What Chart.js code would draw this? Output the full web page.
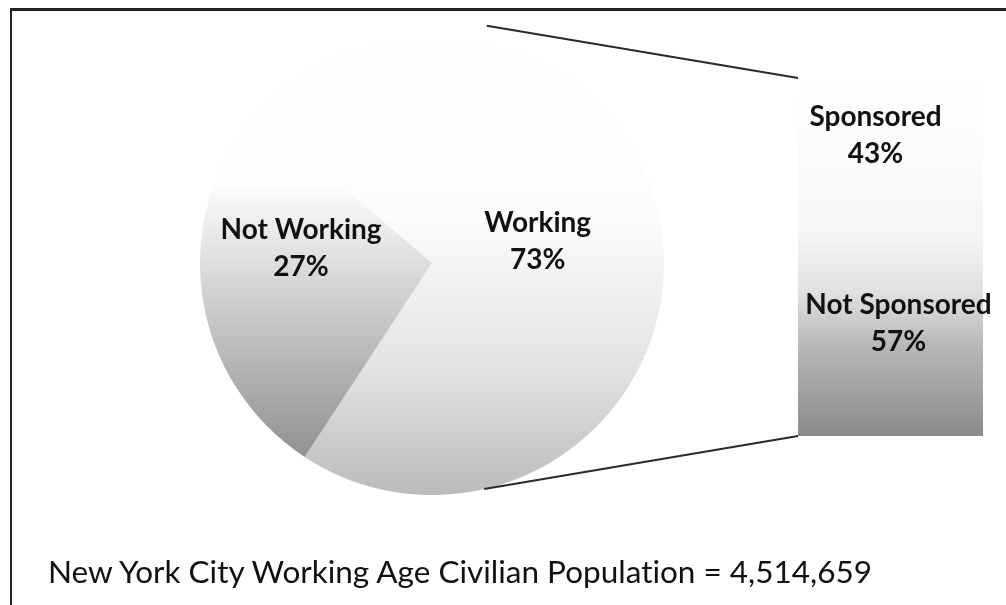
<!DOCTYPE html>
<html>
<head>
<meta charset="utf-8">
<script src="https://cdn.jsdelivr.net/npm/chart.js@4.4.1/dist/chart.umd.min.js"></script>
<style>
  html, body { margin: 0; padding: 0; background: #fff; overflow: hidden; }
  #frame { position: absolute; left: 0; top: 0; width: 1006px; height: 605px; overflow: hidden; }
  #border { position: absolute; left: 10px; top: 8px; width: 1100px; height: 700px;
            border-top: 3px solid #222; border-left: 2px solid #222; }
  #pieBox { position: absolute; left: 200px; top: 31px; width: 464px; height: 464px; }
  #barBox { position: absolute; left: 760px; top: 60px; width: 246px; height: 380px; }
  #links { position: absolute; left: 0; top: 0; pointer-events: none; }
  #caption { position: absolute; left: 48px; top: 555px; font: 31.5px Lato, sans-serif;
             line-height: 33px; color: #111; white-space: nowrap;
             font-variant-ligatures: none; }
</style>
</head>
<body>
<div id="frame">
  <div id="border"></div>
  <div id="pieBox"><canvas id="pie"></canvas></div>
  <div id="barBox"><canvas id="bar"></canvas></div>
  <canvas id="links" width="1006" height="605"></canvas>
  <div id="caption">New York City Working Age Civilian Population = 4,514,659</div>
</div>
<script>
// working age population split
const pieLabels = ['Working', 'Not Working'];
const pieValues = [73, 27];

// breakdown of the working group
const barLabels = ['Not Sponsored', 'Sponsored'];
const barValues = [57, 43];

// gradient stops [offset, colour], top to bottom
const pieShades = [
    [[0, '#ffffff'], [0.4, '#fcfcfc'], [0.72, '#e3e3e3'], [1, '#bbbbbb']],
    [[0, '#ffffff'], [0.33, '#fdfdfd'], [0.55, '#d4d4d4'], [0.8, '#a6a6a6'], [1, '#848484']]
];
const barShades = [
    [[0, '#f6f6f6'], [0.3, '#e0e0e0'], [0.55, '#b9b9b9'], [1, '#8b8b8b']],
    [[0, '#ffffff'], [0.5, '#fbfbfb'], [1, '#f5f5f5']]
];

const labelFont = 'bold 28px Lato, sans-serif';
const lineGap = 37;

function makeGradient(ctx, top, bottom, stops) {
    const g = ctx.createLinearGradient(0, top, 0, bottom);
    stops.forEach(s => g.addColorStop(s[0], s[1]));
    return g;
}

function drawLabel(ctx, x, y, name, pct) {
    ctx.save();
    ctx.font = labelFont;
    ctx.fillStyle = '#111';
    ctx.textAlign = 'center';
    ctx.textBaseline = 'middle';
    ctx.fillText(name, x, y - lineGap / 2);
    ctx.fillText(pct, x, y + lineGap / 2);
    ctx.restore();
}

const sliceLabels = {
    id: 'sliceLabels',
    afterDatasetsDraw(chart, args, opts) {
        const meta = chart.getDatasetMeta(0);
        meta.data.forEach((arc, i) => {
            const mid = (arc.startAngle + arc.endAngle) / 2;
            const r = arc.outerRadius * opts.radius[i];
            const x = arc.x + Math.cos(mid) * r;
            const y = arc.y + Math.sin(mid) * r + opts.shift[i];
            drawLabel(chart.ctx, x, y, pieLabels[i], pieValues[i] + '%');
        });
    }
};

const segmentLabels = {
    id: 'segmentLabels',
    afterDatasetsDraw(chart, args, opts) {
        chart.data.datasets.forEach((ds, i) => {
            const el = chart.getDatasetMeta(i).data[0];
            const x = el.x + opts.nudgeX[i];
            const y = (el.y + el.base) / 2 + opts.nudgeY[i];
            drawLabel(chart.ctx, x, y, barLabels[i], barValues[i] + '%');
        });
    }
};

const pieChart = new Chart(document.getElementById('pie'), {
    type: 'pie',
    data: {
        labels: pieLabels,
        datasets: [{
            data: pieValues,
            borderWidth: 0,
            backgroundColor: function (context) {
                const area = context.chart.chartArea;
                if (!area) return '#ddd';
                return makeGradient(context.chart.ctx, area.top, area.bottom, pieShades[context.dataIndex]);
            }
        }]
    },
    options: {
        responsive: true,
        maintainAspectRatio: false,
        animation: false,
        rotation: 310.5,
        layout: { padding: 0 },
        plugins: {
            legend: { display: false },
            tooltip: { enabled: false },
            sliceLabels: { radius: [0.46, 0.57], shift: [-6, -33] }
        }
    },
    plugins: [sliceLabels]
});

const barChart = new Chart(document.getElementById('bar'), {
    type: 'bar',
    data: {
        labels: ['Working'],
        datasets: barLabels.map((name, i) => ({
            label: name,
            data: [barValues[i]],
            borderWidth: 0,
            barPercentage: 1,
            categoryPercentage: 1,
            backgroundColor: function (context) {
                const y = context.chart.scales.y;
                if (!y) return '#ddd';
                let below = 0;
                for (let k = 0; k < context.datasetIndex; k++) below += barValues[k];
                const top = y.getPixelForValue(below + barValues[context.datasetIndex]);
                const bottom = y.getPixelForValue(below);
                if (!isFinite(top) || !isFinite(bottom)) return '#ddd';
                return makeGradient(context.chart.ctx, top, bottom, barShades[context.datasetIndex]);
            }
        }))
    },
    options: {
        responsive: true,
        maintainAspectRatio: false,
        animation: false,
        layout: { padding: { left: 38, right: 23, top: 18, bottom: 4 } },
        scales: {
            x: { stacked: true, display: false },
            y: { stacked: true, display: false, min: 0, max: 100 }
        },
        plugins: {
            legend: { display: false },
            tooltip: { enabled: false },
            segmentLabels: { nudgeX: [8, -15], nudgeY: [-11, -20] }
        }
    },
    plugins: [segmentLabels]
});

// connector lines from the pie edge to the corners of the bar
function drawLinks() {
    const canvas = document.getElementById('links');
    const ctx = canvas.getContext('2d');
    const frame = document.getElementById('frame').getBoundingClientRect();
    const pieRect = pieChart.canvas.getBoundingClientRect();
    const barRect = barChart.canvas.getBoundingClientRect();

    const arc = pieChart.getDatasetMeta(0).data[0];
    const cx = pieRect.left - frame.left + arc.x;
    const cy = pieRect.top - frame.top + arc.y;
    const R = arc.outerRadius;

    const topEl = barChart.getDatasetMeta(1).data[0];
    const baseEl = barChart.getDatasetMeta(0).data[0];
    const bx = barRect.left - frame.left + topEl.x - topEl.width / 2;
    const bTop = barRect.top - frame.top + topEl.y;
    const bBottom = barRect.top - frame.top + baseEl.base;

    const a = 77 * Math.PI / 180;
    ctx.strokeStyle = '#2a2a2a';
    ctx.lineWidth = 2;
    ctx.beginPath();
    ctx.moveTo(cx + Math.cos(-a) * R * 1.05, cy + Math.sin(-a) * R * 1.05);
    ctx.lineTo(bx, bTop);
    ctx.moveTo(cx + Math.cos(a) * R, cy + Math.sin(a) * R);
    ctx.lineTo(bx, bBottom);
    ctx.stroke();
}
drawLinks();
</script>
</body>
</html>
